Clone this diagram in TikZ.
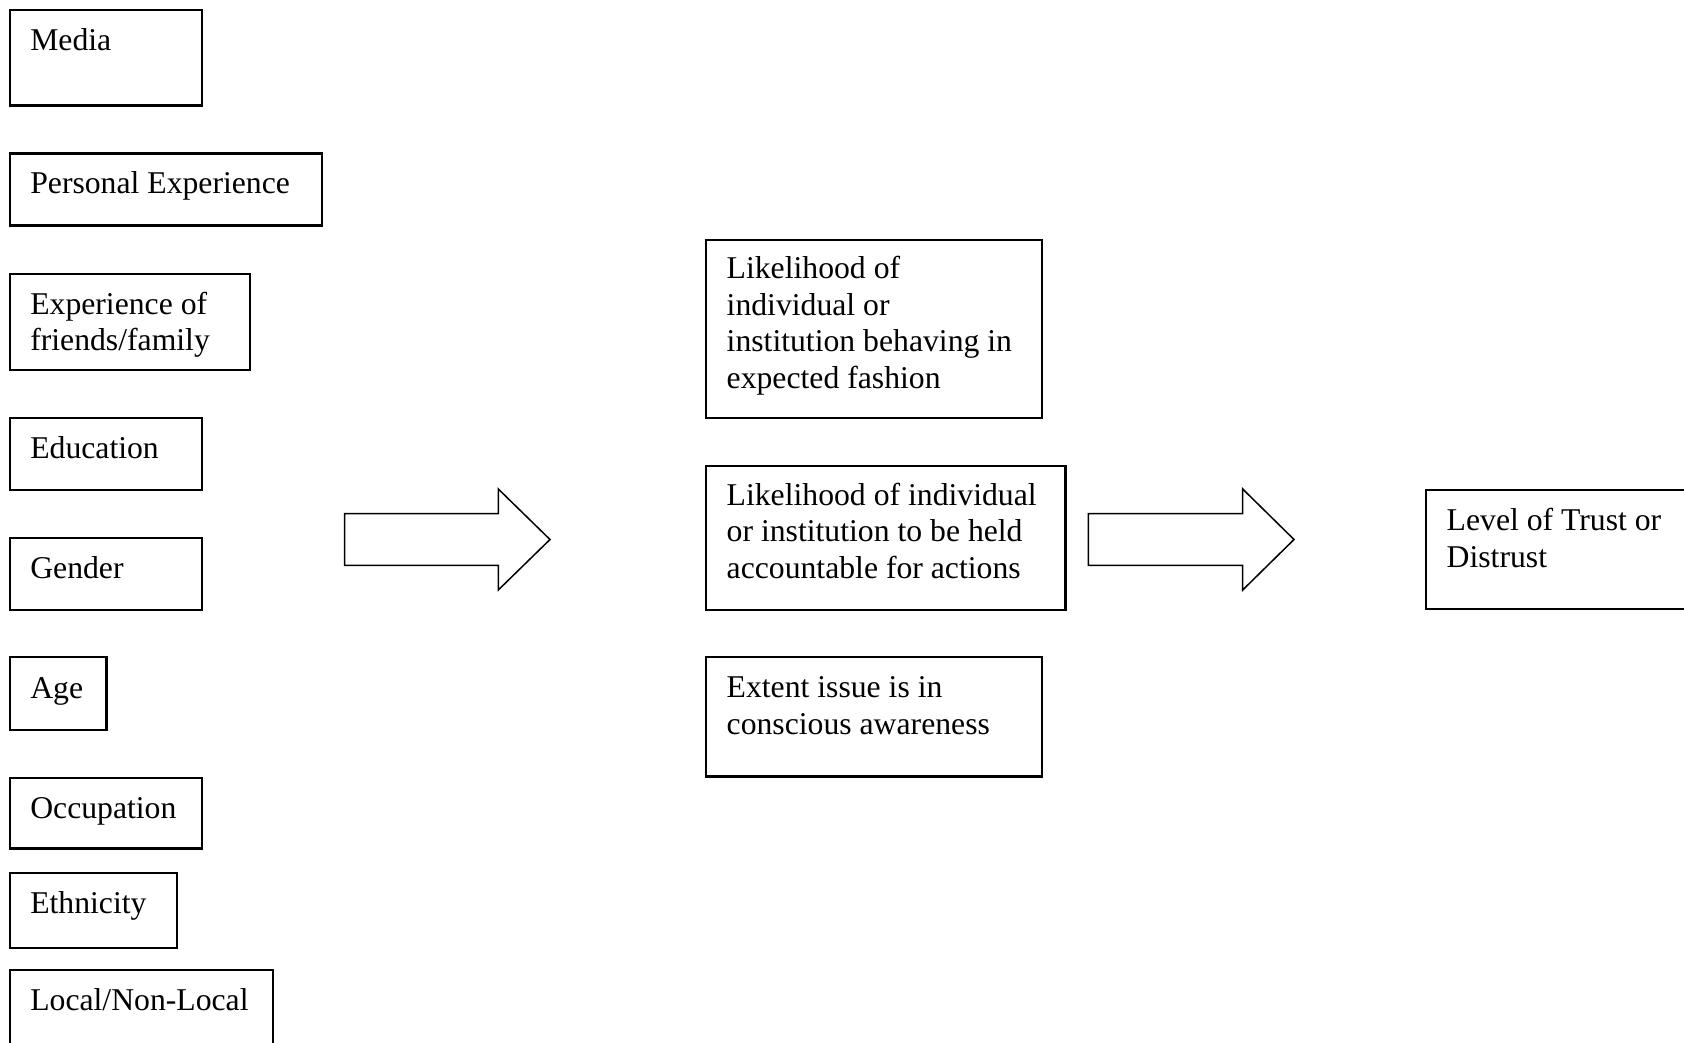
\documentclass[tikz,border=0pt]{standalone}
\usepackage{fontspec}
\setmainfont{Liberation Serif}
\begin{document}
\begin{tikzpicture}[x=1pt,y=-1pt,
  box/.style={draw=black,line width=2.2pt,anchor=north west,inner sep=0pt,rectangle},
  txt/.style={anchor=base west,inner sep=0pt,font=\fontsize{31.7}{36.7}\selectfont},
  blockarrow/.style={draw=black,line width=1.5pt,fill=white,line join=miter}]
\useasboundingbox (0,0) rectangle (1684,1043);
\fill[white] (0,0) rectangle (1684,1043);
% left column
\node[box,minimum width=192.4pt,minimum height=95.9pt] (media) at (8.6,8.6) {};
\node[txt] (mediat) at ([xshift=21.5pt,yshift=-41.5pt]media.north west) {\parbox[t]{300pt}{\raggedright Media}};
\node[box,minimum width=312.4pt,minimum height=72pt] (pers) at (8.6,152.5) {};
\node[txt] (perst) at ([xshift=21.5pt,yshift=-41.5pt]pers.north west) {\parbox[t]{300pt}{\raggedright Personal Experience}};
\node[box,minimum width=240.4pt,minimum height=95.5pt] (expff) at (8.6,273) {};
\node[txt] (expfft) at ([xshift=21.5pt,yshift=-41pt]expff.north west) {\parbox[t]{300pt}{\raggedright Experience of\\friends/family}};
\node[box,minimum width=192.4pt,minimum height=72pt] (edu) at (8.6,416.7) {};
\node[txt] (edut) at ([xshift=21.5pt,yshift=-41.5pt]edu.north west) {\parbox[t]{300pt}{\raggedright Education}};
\node[box,minimum width=192.4pt,minimum height=72pt] (gender) at (8.6,537) {};
\node[txt] (gendert) at ([xshift=21.5pt,yshift=-41.5pt]gender.north west) {\parbox[t]{300pt}{\raggedright Gender}};
\node[box,minimum width=96.7pt,minimum height=73pt] (age) at (8.6,656.2) {};
\node[txt] (aget) at ([xshift=21.5pt,yshift=-42pt]age.north west) {\parbox[t]{300pt}{\raggedright Age}};
\node[box,minimum width=192.4pt,minimum height=70.9pt] (occ) at (8.6,776.5) {};
\node[txt] (occt) at ([xshift=21.5pt,yshift=-41.5pt]occ.north west) {\parbox[t]{300pt}{\raggedright Occupation}};
\node[box,minimum width=167.5pt,minimum height=74.9pt] (eth) at (8.6,872.1) {};
\node[txt] (etht) at ([xshift=21.5pt,yshift=-41.5pt]eth.north west) {\parbox[t]{300pt}{\raggedright Ethnicity}};
\node[box,minimum width=263.1pt,minimum height=100pt] (local) at (8.6,969) {};
\node[txt] (localt) at ([xshift=21.5pt,yshift=-41.5pt]local.north west) {\parbox[t]{300pt}{\raggedright Local/Non-Local}};
% middle column
\node[box,minimum width=336pt,minimum height=177.7pt] (beh) at (705,239) {};
\node[txt] (beht) at ([xshift=21.5pt,yshift=-39.5pt]beh.north west) {\parbox[t]{330pt}{\raggedright Likelihood of\\individual or\\institution behaving in\\expected fashion}};
\node[box,minimum width=359.3pt,minimum height=144pt] (acc) at (705,465) {};
\node[txt] (acct) at ([xshift=21.5pt,yshift=-40pt]acc.north west) {\parbox[t]{340pt}{\raggedright Likelihood of individual\\or institution to be held\\accountable for actions}};
\node[box,minimum width=336pt,minimum height=119.2pt] (ext) at (705,656.2) {};
\node[txt] (extt) at ([xshift=21.5pt,yshift=-41.5pt]ext.north west) {\parbox[t]{330pt}{\raggedright Extent issue is in\\conscious awareness}};
% right box (cut off by page edge)
\node[box,minimum width=300pt,minimum height=119pt] (level) at (1425,489) {};
\node[txt] (levelt) at ([xshift=21.5pt,yshift=-41.5pt]level.north west) {\parbox[t]{250pt}{\raggedright Level of Trust or\\Distrust}};
% block arrows
\coordinate (a1) at (344.7,539.5);
\coordinate (a2) at (1088.3,539.5);
\draw[blockarrow] (a1) +(0,-25.8) -- +(153.6,-25.8) -- +(153.6,-50.5) -- +(205.3,0) -- +(153.6,50.5) -- +(153.6,25.8) -- +(0,25.8) -- cycle;
\draw[blockarrow] (a2) +(0,-25.8) -- +(154.4,-25.8) -- +(154.4,-50.5) -- +(205.7,0) -- +(154.4,50.5) -- +(154.4,25.8) -- +(0,25.8) -- cycle;
\end{tikzpicture}
\end{document}
